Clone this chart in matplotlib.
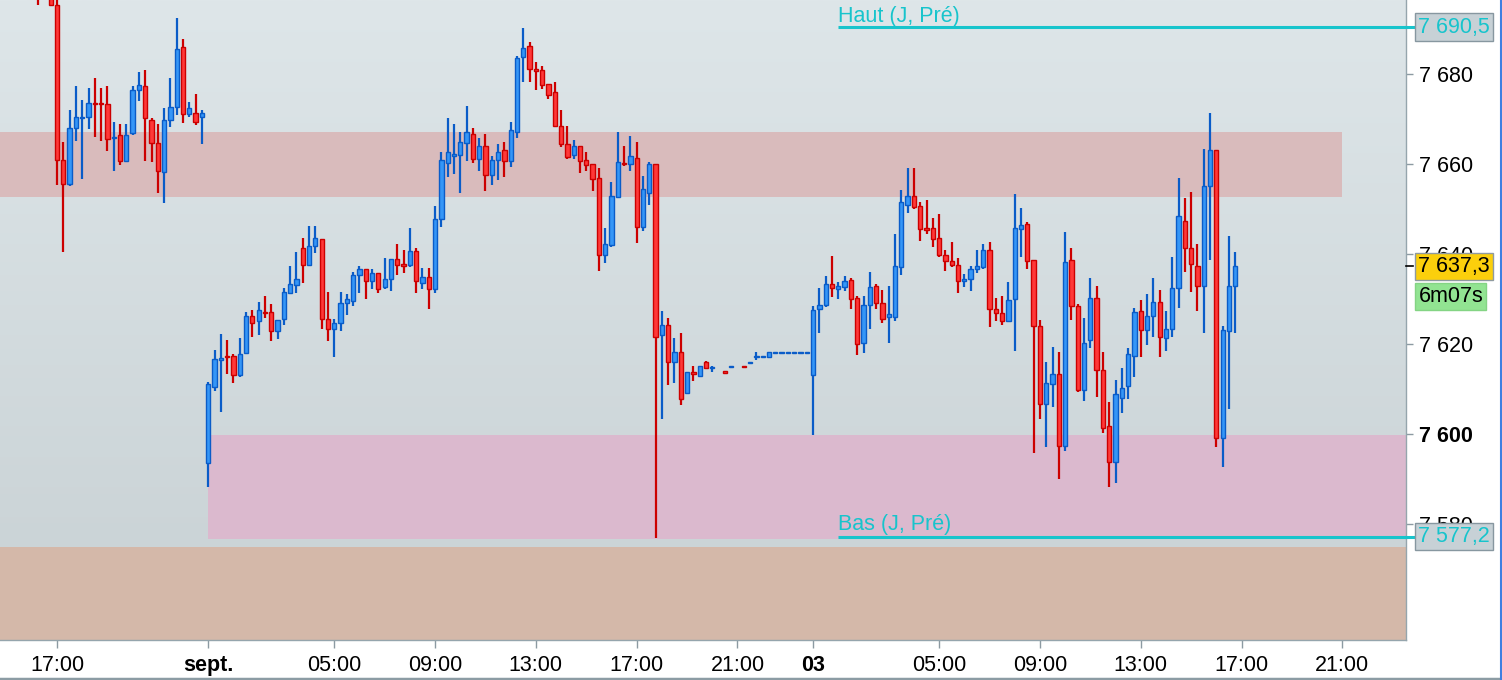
import numpy as np
import matplotlib
matplotlib.use("Agg")
import matplotlib.pyplot as plt
from matplotlib.patches import Rectangle
from matplotlib.colors import LinearSegmentedColormap
from matplotlib.transforms import blended_transform_factory
from matplotlib.lines import Line2D

nan = float("nan")

# ---------------- data (15-minute bars, bar 0 = first "17:00") ----------------
first_bar = -3

open_d1 = [7702, 7700, 7699, 7695.4, 7661.0, 7655.6, 7668.0, 7670.2, 7670.6, 7673.6, 7673.6, 7673.3, 7665.8, 7666.6,
           7660.8, 7667.0, 7676.5, 7677.3, 7669.8, 7664.8, 7658.2, 7669.8, 7672.8, 7686.1, 7671.1, 7671.5, 7670.6]
high_d1 = [7704, 7703, 7701, 7697.5, 7664.9, 7672.0, 7677.4, 7674.3, 7676.9, 7679.1, 7676.9, 7677.4, 7669.4, 7668.9,
           7668.9, 7677.4, 7680.5, 7680.9, 7670.3, 7668.9, 7672.5, 7679.1, 7692.4, 7687.9, 7673.8, 7675.6, 7672.0]
low_d1 = [7695.4, 7697, 7695.4, 7655.4, 7640.4, 7655.1, 7665.2, 7656.8, 7667.9, 7666.1, 7665.2, 7663.0, 7658.6, 7659.9,
          7660.8, 7666.6, 7674.1, 7660.8, 7660.4, 7653.7, 7651.5, 7668.3, 7671.0, 7669.2, 7670.6, 7668.8, 7664.4]
close_d1 = [7697, 7698, 7695.4, 7661.0, 7655.6, 7668.0, 7670.6, 7670.6, 7673.7, 7673.3, 7673.3, 7665.7, 7666.1, 7660.8,
            7666.6, 7676.5, 7677.7, 7670.2, 7664.8, 7658.6, 7669.8, 7672.8, 7685.7, 7671.1, 7672.4, 7669.3, 7671.5]

open_d2 = [7593.7, 7610.6, 7616.6, 7617.4, 7617.4, 7613.2, 7618.1, 7626.3, 7625.2, 7627.2, 7627.2, 7623.0, 7625.7, 7631.5,
           7633.2, 7641.3, 7637.7, 7641.8, 7643.5, 7625.7, 7623.5, 7624.8, 7629.2, 7629.7, 7635.5, 7636.8, 7634.1, 7635.9,
           7632.8, 7634.6, 7639.0, 7637.8, 7637.7, 7640.8, 7633.7, 7635.0, 7632.3, 7647.9, 7660.3, 7661.9, 7662.1, 7664.8,
           7666.7, 7661.2, 7664.1, 7657.7, 7660.9, 7663.2, 7660.8, 7667.2, 7683.9, 7686.3, 7681.2, 7680.9, 7677.8, 7676.1,
           7668.5, 7664.5, 7662.1, 7664.1, 7660.9, 7660.0, 7656.9, 7639.9, 7642.1, 7652.8, 7660.3, 7660.0, 7661.3, 7646.1,
           7653.6, 7660.0, 7622.0, 7624.4, 7616.0, 7618.2, 7609.2, 7613.8, 7612.9, 7616.0, 7614.7, nan, 7614.1, 7614.9,
           nan, 7615.1, 7615.8, 7617.1, 7617.1, 7617.2, 7618.0, 7618.0, 7618.0, 7618.0, 7618.0, 7618.0]
high_d2 = [7611.6, 7618.7, 7622.3, 7620.9, 7617.8, 7621.4, 7627.2, 7627.6, 7629.4, 7630.7, 7628.9, 7625.4, 7632.5, 7637.4,
           7640.5, 7643.6, 7646.3, 7646.3, 7643.5, 7631.6, 7625.7, 7631.6, 7631.2, 7636.1, 7637.4, 7636.8, 7636.8, 7635.9,
           7639.2, 7639.0, 7642.3, 7640.9, 7645.8, 7641.4, 7636.9, 7636.9, 7650.7, 7662.7, 7670.3, 7668.9, 7667.2, 7673.0,
           7668.1, 7665.8, 7666.7, 7661.8, 7664.5, 7665.0, 7669.4, 7684.1, 7690.3, 7687.2, 7682.7, 7681.8, 7677.8, 7678.3,
           7672.1, 7668.5, 7665.4, 7664.1, 7662.7, 7660.0, 7659.2, 7645.8, 7656.1, 7667.2, 7664.1, 7666.3, 7665.0, 7657.4,
           7660.5, 7660.0, 7627.5, 7625.8, 7621.3, 7622.6, 7613.8, 7615.1, 7615.1, 7616.4, 7615.1, nan, 7614.1, 7615.1,
           nan, 7615.1, 7616.0, 7618.3, 7617.3, 7618.3, 7618.2, 7618.2, 7618.2, 7618.2, 7618.2, 7618.2]
low_d2 = [7588.3, 7609.7, 7604.9, 7613.4, 7611.5, 7612.8, 7618.1, 7621.7, 7622.1, 7625.8, 7620.8, 7621.2, 7624.3, 7631.5,
          7631.5, 7633.7, 7637.7, 7640.3, 7623.5, 7620.8, 7617.2, 7623.0, 7626.6, 7628.4, 7631.5, 7630.1, 7632.3, 7631.5,
          7632.3, 7631.9, 7635.5, 7635.9, 7637.2, 7631.5, 7632.3, 7627.9, 7631.5, 7646.1, 7657.2, 7657.8, 7653.7, 7660.8,
          7660.3, 7658.6, 7654.1, 7655.5, 7656.4, 7657.2, 7659.5, 7665.8, 7678.3, 7678.3, 7676.4, 7676.8, 7674.6, 7668.4,
          7663.9, 7661.2, 7661.2, 7658.1, 7658.6, 7654.1, 7636.3, 7638.1, 7641.7, 7652.8, 7659.7, 7658.5, 7642.5, 7645.2,
          7650.9, 7576.9, 7603.4, 7610.9, 7611.4, 7606.5, 7609.2, 7611.8, 7612.9, 7614.7, 7613.8, nan, 7613.7, 7614.9,
          nan, 7614.9, 7615.8, 7616.5, 7617.1, 7617.2, 7618.0, 7618.0, 7618.0, 7618.0, 7618.0, 7618.0]
close_d2 = [7611.2, 7616.8, 7616.9, 7617.1, 7613.2, 7617.8, 7626.3, 7624.8, 7627.6, 7626.9, 7623.0, 7625.4, 7631.6, 7633.4,
            7634.6, 7637.7, 7641.8, 7643.6, 7625.7, 7623.5, 7624.8, 7629.2, 7630.1, 7635.5, 7636.8, 7634.1, 7635.9, 7632.3,
            7634.6, 7639.0, 7637.7, 7637.5, 7640.8, 7634.1, 7635.0, 7632.3, 7647.9, 7660.9, 7662.7, 7662.2, 7665.0, 7667.2,
            7661.2, 7664.1, 7657.7, 7660.9, 7662.7, 7660.8, 7667.6, 7683.6, 7685.8, 7681.2, 7680.8, 7677.7, 7675.5, 7668.4,
            7664.4, 7661.7, 7664.1, 7660.8, 7659.9, 7656.8, 7639.9, 7642.3, 7652.9, 7660.5, 7660.0, 7661.8, 7646.1, 7654.6,
            7660.0, 7621.6, 7624.4, 7616.0, 7618.2, 7607.8, 7613.8, 7613.4, 7615.1, 7614.7, 7615.0, nan, 7613.7, 7615.1,
            nan, 7614.9, 7616.0, 7617.3, 7617.3, 7618.3, 7618.2, 7618.2, 7618.2, 7618.2, 7618.2, 7618.2]

open_d3 = [7613.2, 7627.9, 7628.8, 7633.4, 7632.3, 7632.8, 7634.3, 7630.3, 7620.4, 7628.8,
           7632.9, 7629.2, 7626.1, 7626.1, 7637.2, 7651.0, 7653.0, 7650.7, 7645.8, 7645.8,
           7643.6, 7639.9, 7638.6, 7637.7, 7634.1, 7634.6, 7636.8, 7637.1, 7641.0, 7627.9,
           7627.0, 7625.2, 7630.1, 7645.7, 7646.7, 7638.7, 7624.0, 7606.7, 7611.1, 7613.3,
           7597.3, 7638.7, 7628.4, 7609.8, 7620.9, 7630.2, 7614.2, 7601.8, 7593.8, 7608.0,
           7610.7, 7617.3, 7627.5, 7623.1, 7626.2, 7629.3, 7621.3, 7623.5, 7632.4, 7647.5,
           7641.3, 7637.3, 7632.9, 7655.1, 7663.1, 7599.1, 7622.9, 7632.9]
high_d3 = [7628.5, 7632.5, 7635.2, 7639.6, 7633.8, 7635.2, 7634.7, 7630.7, 7630.7, 7636.1,
           7633.4, 7632.1, 7632.9, 7644.5, 7654.3, 7659.2, 7659.2, 7651.6, 7652.1, 7648.1,
           7649.0, 7641.0, 7642.7, 7639.2, 7635.6, 7637.4, 7641.0, 7642.3, 7642.7, 7630.3,
           7630.7, 7633.8, 7653.4, 7650.3, 7647.2, 7638.7, 7625.3, 7616.0, 7619.5, 7618.2,
           7644.9, 7641.3, 7628.9, 7625.8, 7634.7, 7632.9, 7618.2, 7607.1, 7612.0, 7614.7,
           7619.1, 7628.0, 7629.8, 7631.1, 7634.7, 7632.0, 7627.5, 7639.5, 7656.9, 7652.4,
           7653.8, 7642.2, 7663.5, 7671.5, 7663.1, 7624.0, 7644.0, 7640.4]
low_d3 = [7599.8, 7622.6, 7628.3, 7630.6, 7630.1, 7631.9, 7627.9, 7617.7, 7618.1, 7623.5,
          7627.9, 7624.8, 7620.4, 7625.2, 7635.5, 7649.2, 7650.1, 7643.0, 7644.5, 7641.7,
          7639.5, 7636.3, 7637.2, 7631.5, 7632.8, 7631.9, 7635.9, 7636.8, 7623.9, 7625.2,
          7624.4, 7625.2, 7618.6, 7639.5, 7636.8, 7595.8, 7603.4, 7597.2, 7606.1, 7590.1,
          7596.4, 7625.3, 7609.3, 7607.5, 7619.1, 7608.3, 7600.3, 7588.3, 7589.2, 7604.7,
          7607.8, 7612.7, 7617.2, 7619.8, 7621.6, 7617.2, 7618.5, 7621.6, 7628.0, 7636.0,
          7631.6, 7627.5, 7622.5, 7638.7, 7597.2, 7592.7, 7605.6, 7622.5]
close_d3 = [7627.6, 7628.8, 7633.4, 7632.4, 7632.9, 7634.1, 7630.1, 7620.0, 7628.8, 7632.8,
            7629.2, 7625.7, 7626.7, 7637.4, 7651.6, 7653.0, 7650.6, 7645.7, 7645.5, 7643.5,
            7639.9, 7638.6, 7637.7, 7634.1, 7634.6, 7636.8, 7637.4, 7641.0, 7627.9, 7627.0,
            7625.2, 7629.8, 7645.8, 7646.6, 7638.6, 7624.0, 7606.7, 7611.5, 7613.3, 7597.3,
            7638.2, 7628.4, 7609.8, 7620.4, 7630.2, 7614.2, 7601.3, 7593.8, 7608.9, 7610.2,
            7617.8, 7627.1, 7623.1, 7626.2, 7629.3, 7621.7, 7623.5, 7632.4, 7648.4, 7641.3,
            7637.8, 7632.9, 7655.1, 7663.1, 7599.1, 7623.1, 7632.9, 7637.3]

tick_bars = [0, 24, 44, 60, 76, 92, 108, 120, 140, 156, 172, 188, 204]
tick_labels = ["17:00", "sept.", "05:00", "09:00", "13:00", "17:00", "21:00", "03", "05:00", "09:00", "13:00", "17:00", "21:00"]
bold_labels = ["sept.", "03"]
price_ticks = [7580, 7600, 7620, 7640, 7660, 7680]

resistance_zone = (7652.7, 7667.2)
resistance_end_bar = 204
support_zone = (7576.7, 7599.8)
support_start_bar = 24
floor_zone_top = 7574.9
prev_high = 7690.5
prev_low = 7577.2
levels_start_bar = 124
last_price = 7637.3
countdown = "6m07s"
countdown_level = 7630.6

# ---------------- figure ----------------
plt.rcParams["font.family"] = ["Liberation Sans", "DejaVu Sans"]
W, H = 1502, 680
fig = plt.figure(figsize=(W / 100, H / 100), dpi=100)
fig.patch.set_facecolor("white")
ax_left, ax_bottom, ax_w, ax_h = 0, 40, 1406, 640
ax = fig.add_axes([ax_left / W, ax_bottom / H, ax_w / W, ax_h / H])

opens = np.array(open_d1 + open_d2 + open_d3, dtype=float)
highs = np.array(high_d1 + high_d2 + high_d3, dtype=float)
lows = np.array(low_d1 + low_d2 + low_d3, dtype=float)
closes = np.array(close_d1 + close_d2 + close_d3, dtype=float)
bars = np.arange(first_bar, first_bar + len(opens))

x0, x1 = -9.05, 214.1
y0, y1 = 7554.3, 7696.5
ax.set_xlim(x0, x1)
ax.set_ylim(y0, y1)

# background gradient
bg = LinearSegmentedColormap.from_list("bg", ["#dee6e9", "#c8d1d4"])
ax.imshow(np.linspace(0, 1, 256).reshape(-1, 1), cmap=bg, aspect="auto",
          extent=[x0, x1, y0, y1], origin="upper", zorder=0)

# zones
ax.add_patch(Rectangle((x0, resistance_zone[0]), resistance_end_bar - x0,
                       resistance_zone[1] - resistance_zone[0], facecolor="#d9bbbc", edgecolor="none", zorder=1))
ax.add_patch(Rectangle((support_start_bar, support_zone[0]), x1 - support_start_bar,
                       support_zone[1] - support_zone[0], facecolor="#dbb9ce", edgecolor="none", zorder=1))
ax.add_patch(Rectangle((x0, y0), x1 - x0, floor_zone_top - y0, facecolor="#d4b8a9", edgecolor="none", zorder=1))

cyan = "#17c4cc"
ax.plot([levels_start_bar, x1], [prev_high, prev_high], color=cyan, lw=2.2, zorder=2, solid_capstyle="butt")
ax.plot([levels_start_bar, x1], [prev_low, prev_low], color=cyan, lw=2.2, zorder=2, solid_capstyle="butt")
ax.text(levels_start_bar, prev_high + 1.1, "Haut (J, Pré)", color=cyan, fontsize=15.5, va="baseline", ha="left", zorder=2)
ax.text(levels_start_bar, prev_low + 1.6, "Bas (J, Pré)", color=cyan, fontsize=15.5, va="baseline", ha="left", zorder=2)

# candles
up_fill, up_edge = "#3596f7", "#0a5cc8"
dn_fill, dn_edge = "#ff3838", "#cc0000"
body_w = 0.68
min_h = 0.3
for x, o, h, l, c in zip(bars, opens, highs, lows, closes):
    if np.isnan(o):
        continue
    up = c >= o
    fill, edge = (up_fill, up_edge) if up else (dn_fill, dn_edge)
    ax.vlines(x, l, h, color=edge, lw=1.6, zorder=3)
    bottom = min(o, c)
    height = max(abs(c - o), min_h)
    ax.add_patch(Rectangle((x - body_w / 2, bottom), body_w, height, facecolor=fill,
                           edgecolor=edge, lw=1.0, zorder=4))

# axes styling
for s in ["top", "left"]:
    ax.spines[s].set_visible(False)
for s in ["right", "bottom"]:
    ax.spines[s].set_color("#95a5ad")
    ax.spines[s].set_linewidth(1.0)

ax.yaxis.tick_right()
ax.set_yticks(price_ticks)
ax.set_yticklabels([f"{v:,}".replace(",", " ") for v in price_ticks])
ax.tick_params(axis="y", direction="out", length=5.2, width=1, color="#8c9aa2", pad=4,
               labelsize=15.5, labelcolor="black")
for lab, v in zip(ax.get_yticklabels(), price_ticks):
    if v == 7600:
        lab.set_fontweight("bold")

ax.set_xticks(tick_bars)
ax.set_xticklabels(tick_labels)
ax.tick_params(axis="x", direction="out", length=5.5, width=1, color="#8c9aa2", pad=5,
               labelsize=15.5, labelcolor="black")
for lab in ax.get_xticklabels():
    if lab.get_text() in bold_labels:
        lab.set_fontweight("bold")

# right-hand price labels
btr = blended_transform_factory(ax.transAxes, ax.transData)
xr = 1.0
tx = 1418.5 / ax_w
for lvl in (prev_high, prev_low):
    ax.plot([xr, 1414 / ax_w], [lvl, lvl], color=cyan, lw=2.2, transform=btr, clip_on=False, zorder=5)
    ax.text(tx, lvl, f"{lvl:,.1f}".replace(",", " ").replace(".", ","), transform=btr, color=cyan,
            fontsize=15.5, va="center", ha="left", zorder=6,
            bbox=dict(boxstyle="square,pad=0.14", fc="#c7d1d6", ec="#8797a0", lw=1))
ax.plot([xr, 1413 / ax_w], [last_price, last_price], color="black", lw=1.2, transform=btr, clip_on=False, zorder=5)
ax.text(tx, last_price, f"{last_price:,.1f}".replace(",", " ").replace(".", ","), transform=btr,
        color="black", fontsize=15.5, va="center", ha="left", zorder=6,
        bbox=dict(boxstyle="square,pad=0.14", fc="#fbcf0c", ec="#8f9aa0", lw=1))
ax.text(tx, countdown_level, countdown, transform=btr, color="black", fontsize=15.5, va="center", ha="left", zorder=6,
        bbox=dict(boxstyle="square,pad=0.14", fc="#92e492", ec="#84d484", lw=1))

# outer frame lines
fig.add_artist(Line2D([0, 1], [1.5 / H, 1.5 / H], color="#8c9ca4", lw=2.5))
fig.add_artist(Line2D([1500.5 / W, 1500.5 / W], [0, 1], color="#3f7fe0", lw=1.5))

fig.savefig("out.png", dpi=100)
